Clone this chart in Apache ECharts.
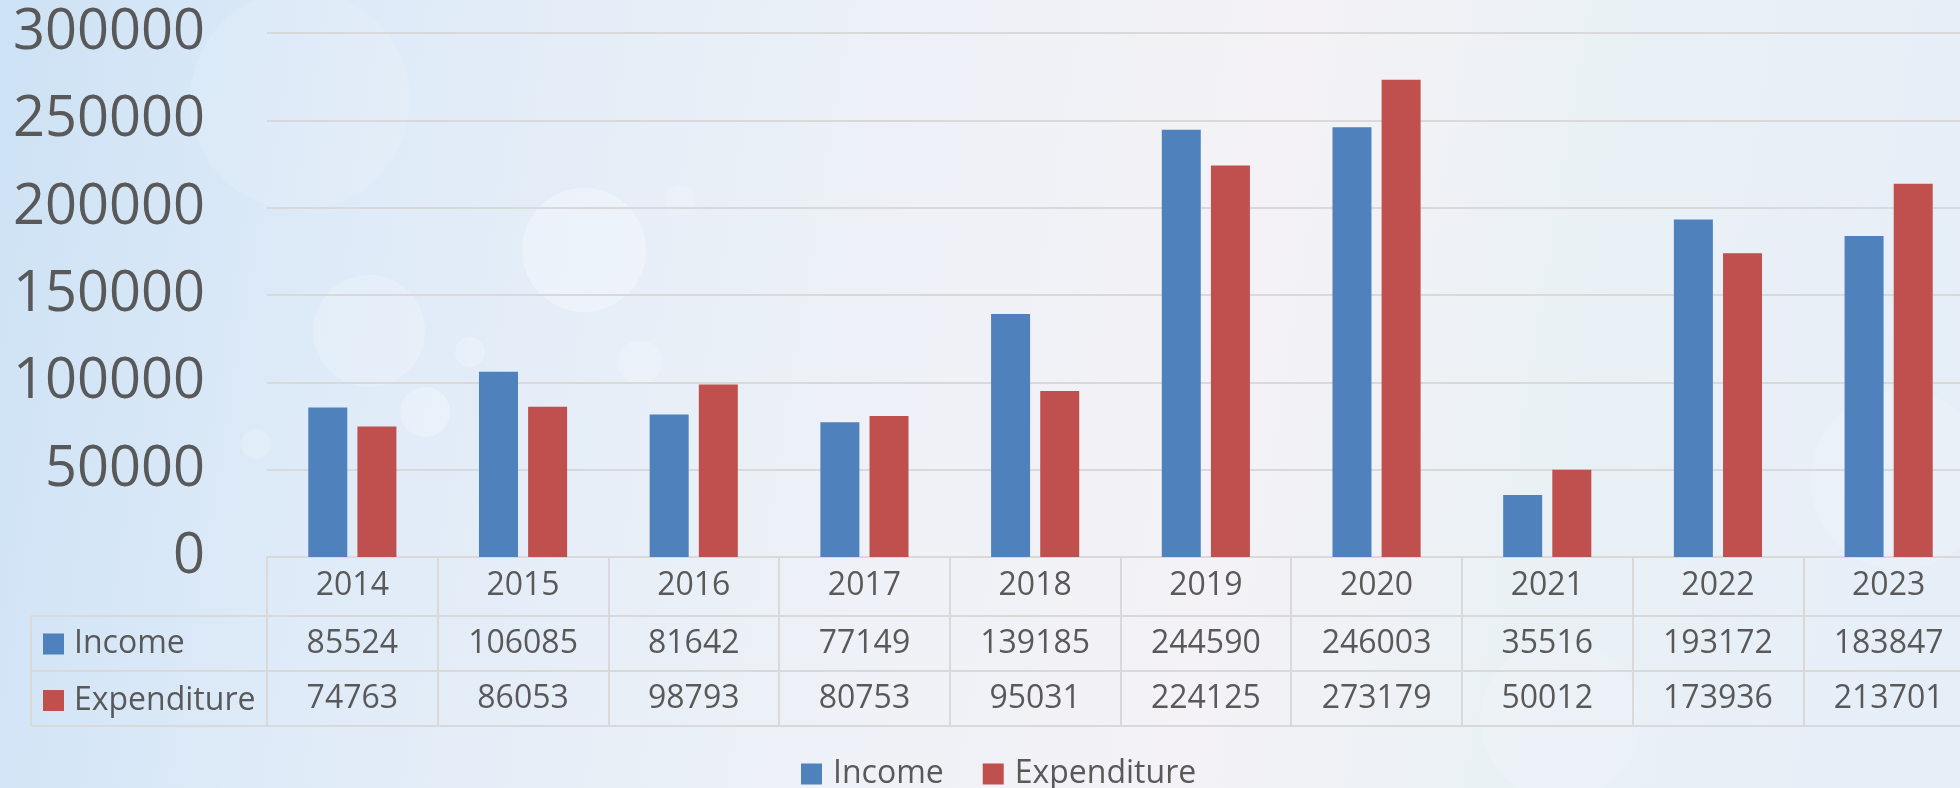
<!DOCTYPE html>
<html lang="en">
<head>
  <meta charset="UTF-8">
  <title>Income and Expenditure</title>
  <script src="https://cdn.jsdelivr.net/npm/echarts@6/dist/echarts.min.js"></script>
  <style>
    html, body { margin: 0; padding: 0; }
    #main { width: 1960px; height: 788px; }
  </style>
</head>
<body>
  <div id="main"></div>
  <script>
    // data
    var years = ['2014', '2015', '2016', '2017', '2018', '2019', '2020', '2021', '2022', '2023'];
    var income = [85524, 106085, 81642, 77149, 139185, 244590, 246003, 35516, 193172, 183847];
    var expenditure = [74763, 86053, 98793, 80753, 95031, 224125, 273179, 50012, 173936, 213701];
    var seriesNames = ['Income', 'Expenditure'];
    var yMin = 0, yMax = 300000, yStep = 50000;

    var font = 'Open Sans';
    var textColor = '#595959';
    var lineColor = '#d9d9d9';

    // table layout (rows hang under the plot); last column runs past the right edge
    var gridLeft = 267, gridTop = 33, gridBottom = 231, gridWidth = 1707;
    var baseY = 788 - gridBottom;
    var rowOffsets = [59, 114, 169];
    var headLeft = 31;

    var myChart = echarts.init(document.getElementById('main'));

    function tableAxis(data, offset, showLabel) {
      return {
        type: 'category',
        data: data,
        position: 'bottom',
        offset: offset,
        axisLine: { show: true, lineStyle: { color: lineColor, width: 2 } },
        axisTick: { show: false },
        axisLabel: {
          show: showLabel, interval: 0, margin: 12,
          fontSize: 32, lineHeight: 32, color: textColor, fontFamily: font
        },
        splitLine: { show: false }
      };
    }

    var headerLines = [];
    rowOffsets.forEach(function (off) {
      headerLines.push({
        type: 'line', silent: true,
        shape: { x1: headLeft, y1: baseY + off, x2: gridLeft, y2: baseY + off },
        style: { stroke: lineColor, lineWidth: 2 }
      });
    });
    headerLines.push({
      type: 'line', silent: true,
      shape: { x1: headLeft, y1: baseY + rowOffsets[0], x2: headLeft, y2: baseY + rowOffsets[2] },
      style: { stroke: lineColor, lineWidth: 2 }
    });

    // soft bokeh circles in the backdrop
    var bokeh = [
      [300, 100, 110, 0.12], [584, 250, 62, 0.3], [369, 331, 56, 0.2],
      [425, 412, 25, 0.25], [640, 362, 22, 0.2], [256, 444, 15, 0.2],
      [470, 352, 15, 0.2], [680, 200, 15, 0.15], [1900, 480, 90, 0.12],
      [1560, 720, 80, 0.1]
    ].map(function (c) {
      return {
        type: 'circle', silent: true, z: -10,
        shape: { cx: c[0], cy: c[1], r: c[2] },
        style: { fill: 'rgba(255,255,255,' + c[3] + ')' }
      };
    });

    var option = {
      backgroundColor: {
        type: 'linear', x: 0, y: 0, x2: 1, y2: 0.4,
        colorStops: [
          { offset: 0, color: '#cde2f5' },
          { offset: 0.2, color: '#dfebf8' },
          { offset: 0.45, color: '#edf1f7' },
          { offset: 0.65, color: '#f4f2f6' },
          { offset: 0.8, color: '#eaf1f5' },
          { offset: 1, color: '#e6eef8' }
        ]
      },
      animation: false,
      textStyle: { fontFamily: font },
      graphic: bokeh.concat(headerLines),
      legend: [
        {
          data: seriesNames,
          orient: 'vertical',
          left: 43, top: 628,
          padding: 0,
          itemWidth: 21, itemHeight: 21, itemGap: 24.5,
          icon: 'rect',
          selectedMode: false,
          textStyle: { fontSize: 32, lineHeight: 32, color: textColor, fontFamily: font, padding: [0, 0, 0, 5] }
        },
        {
          data: seriesNames,
          orient: 'horizontal',
          left: 801, top: 758,
          padding: 0,
          itemWidth: 21, itemHeight: 21, itemGap: 39,
          icon: 'rect',
          selectedMode: false,
          textStyle: { fontSize: 32, lineHeight: 32, color: textColor, fontFamily: font, padding: [0, 0, 0, 6] }
        }
      ],
      grid: {
        left: gridLeft, width: gridWidth, top: gridTop, bottom: gridBottom,
        containLabel: false, outerBoundsMode: 'none'
      },
      xAxis: [
        {
          type: 'category',
          data: years,
          position: 'bottom',
          axisLine: { show: true, lineStyle: { color: lineColor, width: 2 } },
          axisTick: { show: true, interval: 0, length: rowOffsets[2], lineStyle: { color: lineColor, width: 2 } },
          axisLabel: { interval: 0, margin: 13, fontSize: 32, lineHeight: 32, color: textColor, fontFamily: font },
          splitLine: { show: false }
        },
        tableAxis(income.map(String), rowOffsets[0], true),
        tableAxis(expenditure.map(String), rowOffsets[1], true),
        tableAxis(years, rowOffsets[2], false)
      ],
      yAxis: {
        type: 'value',
        min: yMin, max: yMax, interval: yStep,
        axisLine: { show: false },
        axisTick: { show: false },
        axisLabel: {
          fontSize: 56, color: textColor, fontFamily: font, margin: 62,
          formatter: function (v) { return String(v); }
        },
        splitLine: { lineStyle: { color: lineColor, width: 2 } }
      },
      series: [
        {
          name: seriesNames[0], type: 'bar', xAxisIndex: 0,
          data: income, barWidth: 39, barGap: '26%',
          itemStyle: { color: '#4f81bd' }
        },
        {
          name: seriesNames[1], type: 'bar', xAxisIndex: 0,
          data: expenditure, barWidth: 39,
          itemStyle: { color: '#c0504d' }
        }
      ]
    };
    myChart.setOption(option);
  </script>
</body>
</html>
